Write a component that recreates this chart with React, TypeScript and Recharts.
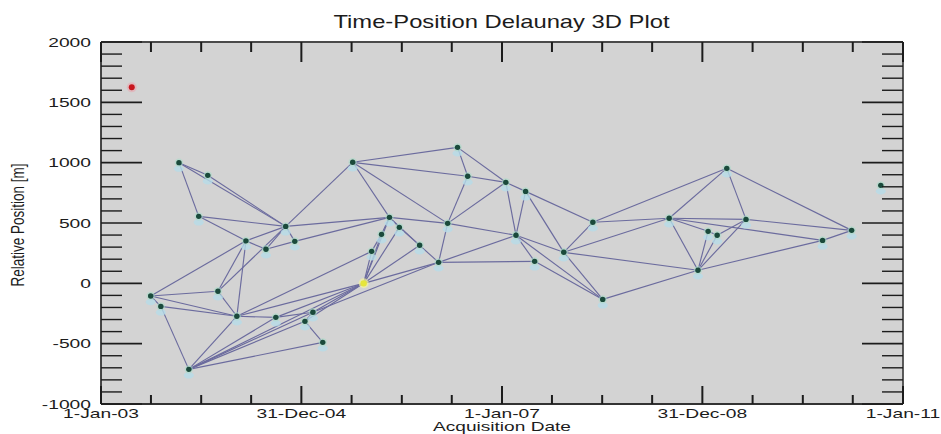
import React from 'react';
import { ScatterChart, Scatter, XAxis, YAxis } from 'recharts';

// ---- data ----
const acqDates = [
  '2003-04-23', '2003-07-01', '2003-08-07', '2003-10-12', '2003-11-17', '2003-12-23',
  '2004-01-25', '2004-03-02', '2004-05-10', '2004-06-12', '2004-08-24', '2004-09-29',
  '2004-11-04', '2004-12-07', '2005-01-13', '2005-02-11', '2005-03-19', '2005-07-06',
  '2005-08-15', '2005-09-13', '2005-10-19', '2005-11-17', '2005-12-23', '2006-03-07',
  '2006-05-15', '2006-06-17', '2006-07-23', '2006-08-29', '2007-01-15', '2007-02-21',
  '2007-03-28', '2007-04-30', '2007-08-14', '2007-11-28', '2008-01-03', '2008-09-01',
  '2008-12-15', '2009-01-21', '2009-02-23', '2009-03-30', '2009-06-08', '2010-03-14',
  '2010-06-28', '2010-10-12',
];
const relPositions = [
  1624, -105, -191, 1000, -713, 555,
  895, -66, -273, 352, 282, -282,
  472, 348, -315, -240, -489, 1003,
  0, 265, 406, 547, 464, 315,
  174, 497, 1127, 887, 837, 398,
  762, 182, 257, 506, -133, 539,
  108, 431, 398, 953, 530, 356,
  439, 812,
];
const masterIndex = 0;
const highlightIndex = 18;
const edges: [number, number][] = [
  [1, 2], [1, 7], [1, 8], [1, 9], [2, 4], [2, 8], [4, 8], [4, 11], [4, 14], [4, 15], [4, 16], [4, 18],
  [3, 5], [3, 6], [3, 12], [6, 12], [5, 9], [5, 12], [9, 10], [9, 12], [10, 12], [10, 13], [7, 9], [7, 8],
  [7, 12], [8, 9], [8, 11], [8, 18], [8, 19], [12, 13], [12, 17], [12, 21], [13, 21],
  [11, 15], [11, 18], [14, 15], [14, 16], [15, 18], [14, 18], [15, 24],
  [17, 21], [17, 25], [17, 26], [17, 27], [18, 19], [18, 20], [18, 21], [18, 22], [18, 23], [18, 24],
  [19, 20], [20, 21], [21, 22], [21, 23], [22, 23], [21, 25], [23, 24], [24, 25],
  [25, 27], [25, 28], [25, 29], [26, 27], [26, 28], [27, 28], [28, 29], [28, 30], [29, 30], [30, 32],
  [30, 33], [29, 32], [24, 29], [24, 31], [29, 31], [31, 34], [29, 34], [32, 34], [32, 33], [33, 35],
  [33, 39], [32, 35], [32, 36], [34, 36],
  [35, 36], [35, 37], [35, 39], [35, 40], [35, 41], [36, 37], [36, 38], [36, 40], [36, 41], [37, 38],
  [38, 40], [39, 40], [39, 42], [40, 42], [41, 42],
];
const xMajorDates = ['2003-01-01', '2004-12-31', '2007-01-01', '2008-12-31', '2011-01-01'];
const xMajorLabels = ['1-Jan-03', '31-Dec-04', '1-Jan-07', '31-Dec-08', '1-Jan-11'];
const xMinorDates = [
  '2003-07-02', '2004-01-01', '2004-07-01', '2005-07-02', '2006-01-01', '2006-07-02',
  '2007-07-02', '2008-01-01', '2008-07-01', '2009-07-02', '2010-01-01', '2010-07-02',
];
const yMajorTicks = [-1000, -500, 0, 500, 1000, 1500, 2000];
const yMinorTicks = [
  -900, -800, -700, -600, -400, -300, -200, -100, 100, 200, 300, 400,
  600, 700, 800, 900, 1100, 1200, 1300, 1400, 1600, 1700, 1800, 1900,
];

// ---- helpers ----
const FONT = '"Liberation Sans", Arial, Helvetica, sans-serif';
const INK = '#1c1c1c';
const toTs = (s: string) => Date.parse(s + 'T00:00:00Z');
const points = acqDates.map((d, i) => ({ x: toTs(d), y: relPositions[i], i }));
const nodePoints = points.filter((p) => p.i !== masterIndex && p.i !== highlightIndex);
const xMajorTs = xMajorDates.map(toTs);
const xTicks = [...xMajorTs, ...xMinorDates.map(toTs)].sort((a, b) => a - b);
const yTicks = [...yMajorTicks, ...yMinorTicks].sort((a, b) => a - b);
const xDomain = [xMajorTs[0], xMajorTs[xMajorTs.length - 1]];
const yDomain = [yMajorTicks[0], yMajorTicks[yMajorTicks.length - 1]];

const xLabelOf = (v: number) => {
  const k = xMajorTs.indexOf(v);
  return k >= 0 ? xMajorLabels[k] : null;
};

function LeftTick(props: any) {
  const { x, y, payload } = props;
  const v = payload.value;
  const major = yMajorTicks.includes(v);
  return (
    <g>
      <path d={`M${x},${y}H${x + (major ? 41 : 21)}`} stroke={INK} strokeWidth={major ? 1.7 : 1.4} />
      {major && (
        <text
          transform={`translate(${x - 10},${y + 4.6}) scale(1.48,1)`}
          textAnchor="end"
          fontSize={13}
          fontFamily={FONT}
          fill={INK}
        >
          {v}
        </text>
      )}
    </g>
  );
}

function RightTick(props: any) {
  const { x, y, payload } = props;
  const major = yMajorTicks.includes(payload.value);
  return <path d={`M${x},${y}H${x - (major ? 41 : 21)}`} stroke={INK} strokeWidth={major ? 1.7 : 1.4} />;
}

function BottomTick(props: any) {
  const { x, y, payload } = props;
  const label = xLabelOf(payload.value);
  return (
    <g>
      <path d={`M${x},${y}V${y - (label ? 18 : 9)}`} stroke={INK} strokeWidth={2} />
      {label && (
        <text
          transform={`translate(${x},${y + 14}) scale(1.48,1)`}
          textAnchor="middle"
          fontSize={13}
          fontFamily={FONT}
          fill={INK}
        >
          {label}
        </text>
      )}
    </g>
  );
}

function TopTick(props: any) {
  const { x, y, payload } = props;
  const label = xLabelOf(payload.value);
  return <path d={`M${x},${y}V${y + (label ? 20 : 10)}`} stroke={INK} strokeWidth={2} />;
}

const NoShape = () => <g />;

function NodeShape(props: any) {
  const { cx, cy } = props;
  return (
    <g>
      <ellipse cx={cx} cy={cy + 6} rx={5} ry={3.2} fill="#b7dce8" opacity={0.8} />
      <circle cx={cx} cy={cy} r={4.2} fill="#a6dcc8" opacity={0.55} />
      <circle cx={cx} cy={cy} r={2.7} fill="#1a4a3b" />
    </g>
  );
}

function MasterShape(props: any) {
  const { cx, cy } = props;
  return (
    <g>
      <circle cx={cx} cy={cy} r={5} fill="#e8a8b0" opacity={0.6} />
      <circle cx={cx} cy={cy} r={3} fill="#c8161e" />
    </g>
  );
}

function HighlightShape(props: any) {
  const { cx, cy } = props;
  return (
    <g>
      <circle cx={cx} cy={cy} r={5} fill="#f4f4a0" opacity={0.7} />
      <circle cx={cx} cy={cy} r={3.2} fill="#e6e63c" />
    </g>
  );
}

export default function App() {
  const W = 941;
  const H = 434;
  const M = { top: 41, right: 37, bottom: 0, left: 0 };
  const AX = { bottom: 30, top: 1, left: 101, right: 1 };
  return (
    <div style={{ position: 'absolute', left: 0, top: 0, width: W, height: H, background: '#ffffff' }}>
      <div
        style={{
          position: 'absolute',
          left: M.left + AX.left,
          top: M.top + AX.top,
          width: W - M.left - AX.left - M.right - AX.right,
          height: H - M.top - AX.top - M.bottom - AX.bottom,
          background: '#d3d3d3',
        }}
      />
      <div style={{ position: 'absolute', left: 0, top: 0 }}>
        <ScatterChart width={W} height={H} margin={M}>
          <XAxis
            xAxisId="b"
            dataKey="x"
            type="number"
            domain={xDomain}
            ticks={xTicks}
            interval={0}
            height={AX.bottom}
            tickSize={0}
            tickMargin={0}
            tickLine={false}
            axisLine={{ stroke: '#333', strokeWidth: 1.8 }}
            tick={BottomTick}
          />
          <XAxis
            xAxisId="t"
            orientation="top"
            dataKey="x"
            type="number"
            domain={xDomain}
            ticks={xTicks}
            interval={0}
            height={AX.top}
            tickSize={0}
            tickMargin={0}
            tickLine={false}
            axisLine={{ stroke: '#4a4a4a', strokeWidth: 1.8 }}
            tick={TopTick}
          />
          <YAxis
            yAxisId="l"
            dataKey="y"
            type="number"
            domain={yDomain}
            ticks={yTicks}
            interval={0}
            width={AX.left}
            tickSize={0}
            tickMargin={0}
            tickLine={false}
            axisLine={{ stroke: '#333', strokeWidth: 1.8 }}
            tick={LeftTick}
          />
          <YAxis
            yAxisId="r"
            orientation="right"
            dataKey="y"
            type="number"
            domain={yDomain}
            ticks={yTicks}
            interval={0}
            width={AX.right}
            tickSize={0}
            tickMargin={0}
            tickLine={false}
            axisLine={{ stroke: '#4a4a4a', strokeWidth: 1.8 }}
            tick={RightTick}
          />
          <Scatter
            xAxisId="t"
            yAxisId="r"
            data={[points[masterIndex]]}
            shape={NoShape}
            isAnimationActive={false}
          />
          {edges.map(([a, b], k) => (
            <Scatter
              key={'e' + k}
              xAxisId="b"
              yAxisId="l"
              data={[points[a], points[b]]}
              line={{ stroke: '#6b6b9e', strokeWidth: 1.15 }}
              shape={NoShape}
              isAnimationActive={false}
            />
          ))}
          <Scatter xAxisId="b" yAxisId="l" data={nodePoints} shape={NodeShape} isAnimationActive={false} />
          <Scatter xAxisId="b" yAxisId="l" data={[points[masterIndex]]} shape={MasterShape} isAnimationActive={false} />
          <Scatter xAxisId="b" yAxisId="l" data={[points[highlightIndex]]} shape={HighlightShape} isAnimationActive={false} />
        </ScatterChart>
      </div>
      <svg
        width={W}
        height={H}
        style={{ position: 'absolute', left: 0, top: 0, pointerEvents: 'none' }}
      >
        <text
          transform="translate(501.5,28) scale(1.36,1)"
          textAnchor="middle"
          fontSize={17.5}
          fontFamily={FONT}
          fill={INK}
        >
          Time-Position Delaunay 3D Plot
        </text>
        <text
          transform="translate(502,431) scale(1.47,1)"
          textAnchor="middle"
          fontSize={13}
          fontFamily={FONT}
          fill={INK}
        >
          Acquisition Date
        </text>
        <text
          transform="translate(23.5,225) rotate(-90) scale(1,1.4)"
          textAnchor="middle"
          fontSize={13.5}
          fontFamily={FONT}
          fill={INK}
        >
          Relative Position [m]
        </text>
      </svg>
    </div>
  );
}
